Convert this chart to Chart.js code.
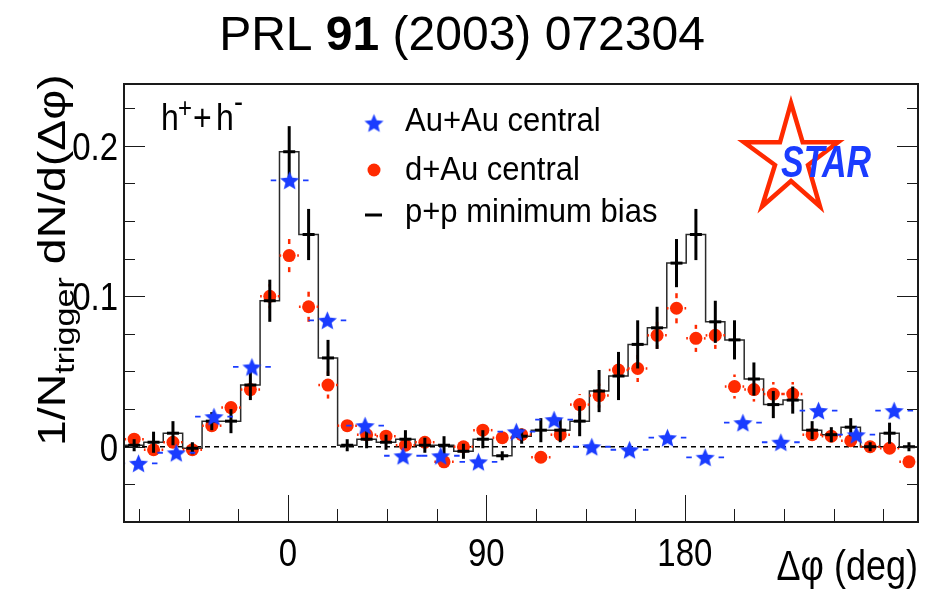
<!DOCTYPE html>
<html>
<head>
<meta charset="utf-8">
<title>PRL 91 (2003) 072304</title>
<script src="https://cdn.jsdelivr.net/npm/chart.js@4/dist/chart.umd.min.js"></script>
<style>
  html, body { margin: 0; padding: 0; background: #ffffff; }
  #wrap { width: 933px; height: 591px; position: relative; }
</style>
</head>
<body>
<div id="wrap"><canvas id="c" width="933" height="591"></canvas></div>
<script>
// Δφ bin centres (deg) of the p+p and d+Au histograms
const binCentres = [-69.7, -60.9, -52.1, -43.3, -34.5, -25.8, -17.0, -8.2, 0.6, 9.4,
  18.2, 26.9, 35.7, 44.5, 53.3, 62.1, 70.8, 79.6, 88.4, 97.2,
  106.0, 114.7, 123.5, 132.3, 141.1, 149.9, 158.6, 167.4, 176.2, 185.0,
  193.8, 202.5, 211.3, 220.1, 228.9, 237.7, 246.4, 255.2, 264.0, 272.8, 281.6];
const binWidth = 8.78;

// p+p minimum bias
const ppValues = [0.001, 0.003, 0.009, -0.001, 0.017, 0.017, 0.041, 0.097, 0.196, 0.141,
  0.059, 0.001, 0.005, 0.003, 0.005, 0.001, 0.001, -0.003, 0.005, -0.006,
  0.007, 0.011, 0.011, 0.017, 0.037, 0.047, 0.068, 0.079, 0.122, 0.141,
  0.083, 0.071, 0.045, 0.028, 0.031, 0.011, 0.008, 0.013, 0.000, 0.009, 0.000];
const ppErrors = [0.004, 0.007, 0.008, 0.004, 0.006, 0.008, 0.010, 0.014, 0.017, 0.017,
  0.012, 0.004, 0.006, 0.005, 0.006, 0.005, 0.006, 0.005, 0.006, 0.003,
  0.005, 0.008, 0.008, 0.010, 0.014, 0.016, 0.016, 0.014, 0.016, 0.017,
  0.014, 0.013, 0.011, 0.009, 0.009, 0.006, 0.005, 0.006, 0.003, 0.007, 0.003];

// d+Au central
const dAuValues = [0.005, -0.002, 0.003, -0.002, 0.014, 0.026, 0.038, 0.100, 0.127, 0.093,
  0.041, 0.014, 0.008, 0.007, 0.001, 0.003, -0.010, 0.000, 0.011, 0.006,
  0.008, -0.007, 0.008, 0.028, 0.034, 0.051, 0.052, 0.074, 0.092, 0.072,
  0.074, 0.040, 0.038, 0.035, 0.035, 0.008, 0.007, 0.004, 0.000, -0.001, -0.010];
const dAuErrors = [0.004, 0.004, 0.004, 0.004, 0.005, 0.005, 0.006, 0.008, 0.011, 0.010,
  0.009, 0.006, 0.005, 0.005, 0.005, 0.005, 0.005, 0.005, 0.005, 0.005,
  0.005, 0.005, 0.005, 0.007, 0.008, 0.009, 0.009, 0.009, 0.010, 0.009,
  0.009, 0.008, 0.008, 0.008, 0.008, 0.005, 0.005, 0.005, 0.004, 0.004, 0.004];

// Au+Au central, coarser binning
const auauCentres = [-67.7, -50.6, -33.5, -16.3, 0.8, 17.9, 35.0, 52.2, 69.3, 86.4,
  103.6, 120.7, 137.8, 154.9, 172.1, 189.2, 206.3, 223.5, 240.6, 257.7, 274.9];
const auauValues = [-0.011, -0.004, 0.020, 0.053, 0.177, 0.084, 0.014, -0.006, -0.006, -0.010,
  0.010, 0.018, 0.000, -0.002, 0.006, -0.007, 0.016, 0.003, 0.024, 0.008, 0.024];
const auauBinWidth = 17.14;

// axes
const xRange = [-74.3, 285.7];
const yRange = [-0.05, 0.241];
const xTickValues = [0, 90, 180];
const xTickLabels = ['0', '90', '180'];
const xMinorStep = 22.5;
const yTickValues = [0, 0.1, 0.2];
const yTickLabels = ['0', '0.1', '0.2'];
const yMinorStep = 0.025;

const BLUE = '#1a3cff';
const RED = '#ff2a00';
const FONT = '"Liberation Sans", Arial, Helvetica, sans-serif';

// filled five-pointed star used as the Au+Au marker
function makeStar(size, color) {
  const cv = document.createElement('canvas');
  cv.width = size; cv.height = size;
  const g = cv.getContext('2d');
  const c = size / 2, ro = size / 2 - 0.5, ri = ro * 0.45;
  g.beginPath();
  for (let k = 0; k < 10; k++) {
    const r = (k % 2 === 0) ? ro : ri;
    const a = -Math.PI / 2 + k * Math.PI / 5;
    const px = c + r * Math.cos(a), py = c + r * Math.sin(a) + 1;
    if (k === 0) g.moveTo(px, py); else g.lineTo(px, py);
  }
  g.closePath();
  g.fillStyle = color;
  g.fill();
  return cv;
}
const starImg = makeStar(21, BLUE);

// histogram outline reaches both frame edges
const histPoints = [{ x: xRange[0], y: ppValues[0] }]
  .concat(binCentres.map((x, i) => ({ x, y: ppValues[i] })))
  .concat([{ x: xRange[1], y: ppValues[ppValues.length - 1] }]);

function text(ctx, str, x, y, font, align, sy, color) {
  ctx.save();
  ctx.font = font;
  ctx.fillStyle = color || '#000';
  ctx.textAlign = align || 'left';
  ctx.textBaseline = 'alphabetic';
  ctx.translate(x, y);
  ctx.scale(1, sy || 1);
  ctx.fillText(str, 0, 0);
  ctx.restore();
}

function dashedFromTip(ctx, x0, y0, x1, y1, dash) {
  // line drawn from the tip (x0,y0) towards (x1,y1) so a dash always sits at the tip
  ctx.save();
  ctx.setLineDash(dash);
  ctx.beginPath();
  ctx.moveTo(x0, y0);
  ctx.lineTo(x1, y1);
  ctx.stroke();
  ctx.restore();
}

const errorBars = {
  id: 'errorBars',
  beforeDatasetsDraw(chart) {
    const { ctx, chartArea: a, scales: { y } } = chart;
    const y0 = y.getPixelForValue(0);
    ctx.save();
    ctx.strokeStyle = '#000';
    ctx.lineWidth = 1.3;
    ctx.setLineDash([5, 4]);
    ctx.beginPath();
    ctx.moveTo(a.left, y0);
    ctx.lineTo(a.right, y0);
    ctx.stroke();
    ctx.restore();
  },
  beforeDatasetDraw(chart, args) {
    const ds = chart.data.datasets[args.index];
    const { ctx, chartArea: a, scales: { x, y } } = chart;
    ctx.save();
    ctx.beginPath();
    ctx.rect(a.left, a.top, a.right - a.left, a.bottom - a.top);
    ctx.clip();
    if (ds.errKind === 'pp') {
      ctx.strokeStyle = '#000';
      ctx.lineWidth = 3;
      binCentres.forEach((c, i) => {
        const px = x.getPixelForValue(c);
        ctx.beginPath();
        ctx.moveTo(px, y.getPixelForValue(ppValues[i] + ppErrors[i]));
        ctx.lineTo(px, y.getPixelForValue(ppValues[i] - ppErrors[i]));
        ctx.stroke();
      });
    } else if (ds.errKind === 'dau') {
      ctx.strokeStyle = RED;
      ctx.lineWidth = 2.5;
      const r = ds.pointRadius;
      binCentres.forEach((c, i) => {
        const px = x.getPixelForValue(c);
        const py = y.getPixelForValue(dAuValues[i]);
        const top = y.getPixelForValue(dAuValues[i] + dAuErrors[i]);
        const bot = y.getPixelForValue(dAuValues[i] - dAuErrors[i]);
        if (py - top > r + 3) {
          dashedFromTip(ctx, px, top, px, py - r - 3, [5, 4]);
          dashedFromTip(ctx, px, bot, px, py + r + 3, [5, 4]);
        }
        const l = x.getPixelForValue(c - binWidth / 2);
        const rr = x.getPixelForValue(c + binWidth / 2);
        dashedFromTip(ctx, l, py, px - r - 1.5, py, [3, 4]);
        dashedFromTip(ctx, rr, py, px + r + 1.5, py, [3, 4]);
      });
    } else if (ds.errKind === 'auau') {
      ctx.strokeStyle = BLUE;
      ctx.lineWidth = 1.8;
      auauCentres.forEach((c, i) => {
        const px = x.getPixelForValue(c);
        const py = y.getPixelForValue(auauValues[i]);
        const l = x.getPixelForValue(c - auauBinWidth / 2);
        const rr = x.getPixelForValue(c + auauBinWidth / 2);
        ctx.beginPath();
        ctx.moveTo(l, py); ctx.lineTo(l + 5.5, py);
        ctx.moveTo(rr, py); ctx.lineTo(rr - 5.5, py);
        ctx.stroke();
      });
    }
    ctx.restore();
  },
  afterDatasetsDraw(chart) {
    const { ctx, chartArea: a, scales: { x, y } } = chart;
    ctx.save();
    ctx.strokeStyle = '#1a1a1a';
    ctx.lineWidth = 1;
    // x ticks (bottom)
    ctx.beginPath();
    for (let v = Math.ceil(xRange[0] / xMinorStep) * xMinorStep; v <= xRange[1]; v += xMinorStep) {
      const px = Math.round(x.getPixelForValue(v)) + 0.5;
      const major = xTickValues.includes(v);
      ctx.moveTo(px, a.bottom);
      ctx.lineTo(px, a.bottom - (major ? 27 : 13));
    }
    // y ticks (left and right)
    for (let k = Math.ceil(yRange[0] / yMinorStep - 1e-6); k * yMinorStep <= yRange[1] + 1e-9; k++) {
      const v = +(k * yMinorStep).toFixed(4);
      const py = Math.round(y.getPixelForValue(v)) + 0.5;
      const major = yTickValues.includes(v);
      const len = major ? 21 : 11;
      ctx.moveTo(a.left, py); ctx.lineTo(a.left + len, py);
      ctx.moveTo(a.right, py); ctx.lineTo(a.right - len, py);
    }
    ctx.stroke();
    // frame
    ctx.lineWidth = 2;
    ctx.strokeRect(a.left, a.top, a.right - a.left, a.bottom - a.top);
    ctx.restore();
  },
  afterDraw(chart) {
    const { ctx, chartArea: a, scales: { x, y } } = chart;
    // title
    ctx.save();
    const parts = [
      { t: 'PRL ', f: '48px ' + FONT },
      { t: '91', f: 'bold 48px ' + FONT },
      { t: ' (2003) 072304', f: '48px ' + FONT }
    ];
    let w = 0;
    parts.forEach(p => { ctx.font = p.f; w += ctx.measureText(p.t).width; });
    let cx = 462 - w / 2;
    ctx.fillStyle = '#000';
    parts.forEach(p => { ctx.font = p.f; ctx.fillText(p.t, cx, 50); cx += ctx.measureText(p.t).width; });
    ctx.restore();

    // tick labels
    const tickFont = '33px ' + FONT;
    xTickValues.forEach((v, i) => {
      text(ctx, xTickLabels[i], x.getPixelForValue(v), 566, tickFont, 'center', 1.2);
    });
    yTickValues.forEach((v, i) => {
      text(ctx, yTickLabels[i], 118, y.getPixelForValue(v) + 14, tickFont, 'right', 1.2);
    });

    // axis titles
    text(ctx, 'Δφ (deg)', 918, 580, '36px ' + FONT, 'right', 1.2);
    ctx.save();
    ctx.translate(65, 446);
    ctx.rotate(-Math.PI / 2);
    ctx.scale(1.22, 1);
    ctx.fillStyle = '#000';
    let tx = 0;
    [{ t: '1/N', f: '38px ' + FONT, dy: 0 },
     { t: 'trigger', f: '28px ' + FONT, dy: 9 },
     { t: ' dN/d(Δφ)', f: '38px ' + FONT, dy: 0 }].forEach(p => {
      ctx.font = p.f; ctx.fillText(p.t, tx, p.dy); tx += ctx.measureText(p.t).width;
    });
    ctx.restore();

    // h+ + h- label
    text(ctx, 'h', 161, 130, '32px ' + FONT, 'left', 1.18);
    text(ctx, '+', 178, 117, '24px ' + FONT, 'left', 1.18);
    text(ctx, '+', 193, 130, '32px ' + FONT, 'left', 1.18);
    text(ctx, 'h', 216, 130, '32px ' + FONT, 'left', 1.18);
    text(ctx, '-', 234, 112, '27px ' + FONT, 'left', 1.18);

    // legend
    ctx.save();
    ctx.drawImage(starImg, 374 - starImg.width / 2, 123 - starImg.height / 2);
    ctx.fillStyle = RED;
    ctx.beginPath(); ctx.arc(374, 170, 6.5, 0, Math.PI * 2); ctx.fill();
    ctx.strokeStyle = '#000'; ctx.lineWidth = 3;
    ctx.beginPath(); ctx.moveTo(365, 215); ctx.lineTo(382, 215); ctx.stroke();
    ctx.restore();
    const legFont = '31px ' + FONT;
    text(ctx, 'Au+Au central', 405, 131, legFont, 'left', 1.07);
    text(ctx, 'd+Au central', 405, 180, legFont, 'left', 1.07);
    text(ctx, 'p+p minimum bias', 405, 222, legFont, 'left', 1.07);

    // STAR logo
    ctx.save();
    ctx.strokeStyle = RED;
    ctx.lineWidth = 4.5;
    ctx.lineJoin = 'miter';
    const logo = [[791, 103], [802.7, 142.3], [838, 142.3], [808, 165], [820, 206.5],
      [791, 181], [762, 206.5], [775, 165], [744, 142.3], [780, 142.3]];
    ctx.beginPath();
    logo.forEach((p, i) => i ? ctx.lineTo(p[0], p[1]) : ctx.moveTo(p[0], p[1]));
    ctx.closePath();
    ctx.stroke();
    ctx.restore();
    text(ctx, 'STAR', 781, 176.5, 'italic bold 34px ' + FONT, 'left', 1.28, BLUE);
  }
};

new Chart(document.getElementById('c'), {
  type: 'scatter',
  data: {
    datasets: [
      { label: 'p+p outline', type: 'line', data: histPoints, stepped: 'middle',
        borderColor: '#2a2a2a', borderWidth: 1.5, pointRadius: 0, fill: false, order: 5 },
      { label: 'd+Au central', errKind: 'dau', data: binCentres.map((x, i) => ({ x, y: dAuValues[i] })),
        pointStyle: 'circle', pointRadius: 6.5, backgroundColor: RED, borderWidth: 0, order: 4 },
      { label: 'p+p minimum bias', errKind: 'pp', data: binCentres.map((x, i) => ({ x, y: ppValues[i] })),
        pointStyle: 'line', pointRadius: 6, borderColor: '#000', borderWidth: 3, order: 3 },
      { label: 'Au+Au central', errKind: 'auau', data: auauCentres.map((x, i) => ({ x, y: auauValues[i] })),
        pointStyle: starImg, pointRadius: 9, order: 2 }
    ]
  },
  options: {
    responsive: false,
    animation: false,
    devicePixelRatio: 1,
    events: [],
    layout: { padding: { left: 124, right: 15, top: 84, bottom: 69 } },
    scales: {
      x: { type: 'linear', min: xRange[0], max: xRange[1], display: false },
      y: { type: 'linear', min: yRange[0], max: yRange[1], display: false }
    },
    plugins: { legend: { display: false }, tooltip: { enabled: false } }
  },
  plugins: [errorBars]
});
</script>
</body>
</html>
